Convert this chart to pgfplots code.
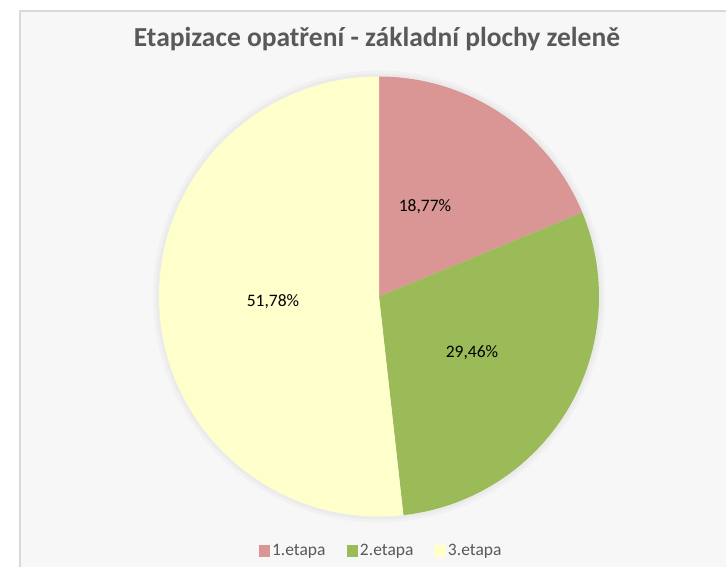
\documentclass[border=0pt]{standalone}
\usepackage{pgfplots}
\pgfplotsset{compat=1.18}
\usepackage{pgfplotstable}
\usepackage{fontspec}
\setmainfont{Carlito}

\definecolor{pieA}{HTML}{D99694}
\definecolor{pieB}{HTML}{9BBB59}
\definecolor{pieC}{HTML}{FFFFCC}
\definecolor{titlegray}{HTML}{595959}
\definecolor{framegray}{HTML}{D9D9D9}
\definecolor{bggray}{HTML}{F7F7F7}

% share of each stage, in percent
\pgfplotstableread{
label value
1.etapa 18.77
2.etapa 29.46
3.etapa 51.78
}\piedata

\begin{document}
\begin{tikzpicture}
\path[use as bounding box] (0,0) rectangle (726bp,567bp);
\pgfplotstablegetelem{0}{value}\of\piedata \let\vA\pgfplotsretval
\pgfplotstablegetelem{1}{value}\of\piedata \let\vB\pgfplotsretval
\pgfplotstablegetelem{2}{value}\of\piedata \let\vC\pgfplotsretval
\pgfmathsetmacro\aA{90}
\pgfmathsetmacro\aB{\aA-3.6*\vA}
\pgfmathsetmacro\aC{\aB-3.6*\vB}
\pgfmathsetmacro\aD{\aC-3.6*\vC}
\begin{axis}[
  x=1bp, y=1bp,
  xmin=0, xmax=726, ymin=0, ymax=567,
  hide axis,
  anchor=origin, at={(0,0)},
  legend columns=3,
  legend style={at={(axis cs:381,16)}, anchor=center, draw=none, fill=none,
    font=\fontsize{17.5bp}{20bp}\selectfont, text=titlegray,
    inner sep=0pt,
    /tikz/every even column/.append style={column sep=19bp}},
  legend image code/.code={\fill[#1, draw=none] (0bp,-5.8bp) rectangle (11.5bp,5.8bp);},
]
% chart area
\fill[bggray] (axis cs:20,-10) rectangle (axis cs:740,556);
\draw[framegray, line width=2bp] (axis cs:20,-10) -- (axis cs:20,556) -- (axis cs:740,556);

% soft shadow
\fill[black, opacity=0.025] (axis cs:379,270.5) circle[radius=226bp];
\fill[black, opacity=0.025] (axis cs:379,270.5) circle[radius=223bp];

% slices
\fill[pieA] (axis cs:379,270.5) -- ++(\aA:220bp) arc[start angle=\aA, end angle=\aB, radius=220bp] -- cycle;
\fill[pieB] (axis cs:379,270.5) -- ++(\aB:220bp) arc[start angle=\aB, end angle=\aC, radius=220bp] -- cycle;
\fill[pieC] (axis cs:379,270.5) -- ++(\aC:220bp) arc[start angle=\aC, end angle=\aD, radius=220bp] -- cycle;

% data labels
\node[font=\fontsize{17.5bp}{20bp}\selectfont] at (axis cs:425,360) {18,77\%};
\node[font=\fontsize{17.5bp}{20bp}\selectfont] at (axis cs:472,214) {29,46\%};
\node[font=\fontsize{17.5bp}{20bp}\selectfont] at (axis cs:273,265) {51,78\%};

% title
\node[font=\bfseries\fontsize{27.5bp}{30bp}\selectfont, text=titlegray, anchor=base]
  at (axis cs:377,520.5) {Etapizace opatření - základní plochy zeleně};

\addlegendimage{fill=pieA, draw=none}
\addlegendentry{1.etapa}
\addlegendimage{fill=pieB, draw=none}
\addlegendentry{2.etapa}
\addlegendimage{fill=pieC, draw=none}
\addlegendentry{3.etapa}
\end{axis}
\end{tikzpicture}
\end{document}
